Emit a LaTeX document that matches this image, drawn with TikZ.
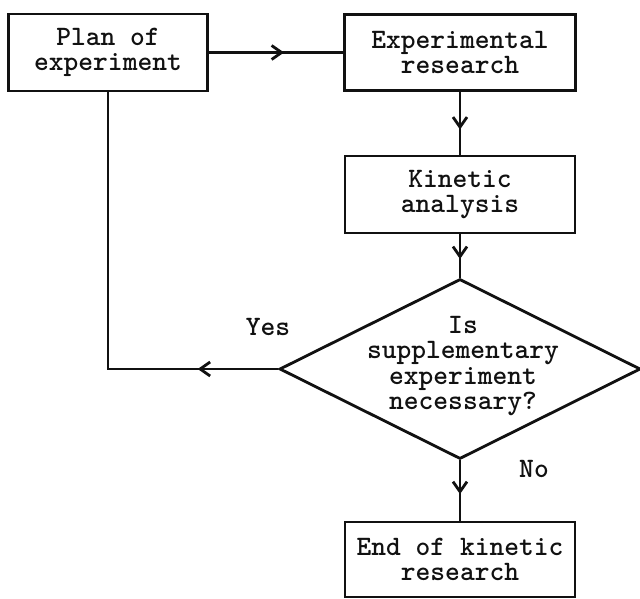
\documentclass[tikz,border=0pt]{standalone}
\usepackage{xcolor}
\usepackage{tikz}
\usetikzlibrary{arrows.meta,decorations.markings,shapes.geometric}
\definecolor{ink}{HTML}{111111}
\tikzset{
  box/.style={draw=ink, line width=2.4pt, line join=miter, rectangle, inner sep=0pt, align=center, text=ink, font=\ttfamily\bfseries\fontsize{24}{21.5}\selectfont},
  decision/.style={draw=ink, line width=2.4pt, diamond, inner sep=0pt, minimum width=10.83cm, minimum height=5.4cm},
  lab/.style={text=ink, align=center, font=\ttfamily\bfseries\fontsize{24}{21.5}\selectfont},
  flow/.style={draw=ink, line width=2.4pt, line join=miter},
  midarrow/.style={postaction={decorate,decoration={markings,mark=at position #1 with {\arrow{Straight Barb[length=3mm,width=4.2mm]}}}}},
}

\begin{document}
\begin{tikzpicture}[x=0.03cm,y=-0.03cm]
  \useasboundingbox (0,0) rectangle (640,599);
  \node[box,minimum width=5.97cm,minimum height=2.31cm] (plan) at (108,52.5) {Plan of\\experiment};
  \node[box,minimum width=6.93cm,minimum height=2.28cm] (exper) at (460,52.5) {Experimental\\research};
  \node[box,minimum width=6.9cm,minimum height=2.31cm] (kin) at (460,194.5) {Kinetic\\analysis};
  \node[decision] (ask) at (460,369) {};
  \node[lab] (asktext) at (463,366) {Is\\supplementary\\experiment\\necessary?};
  \node[box,minimum width=6.9cm,minimum height=2.25cm] (done) at (460,559.5) {End of kinetic\\research};
  \node[lab] (yes) at (268,327) {Yes};
  \node[lab] (no) at (534,469) {No};
  \draw[flow,midarrow=0.56] (plan) -- (exper);
  \draw[flow,midarrow=0.6] (exper) -- (kin);
  \draw[flow,midarrow=0.57] (kin) -- (ask);
  \draw[flow,midarrow=0.56] (ask) -- (done);
  \draw[flow,midarrow=0.18] (ask.west) -| (plan.south); % back to the plan
\end{tikzpicture}
\end{document}
